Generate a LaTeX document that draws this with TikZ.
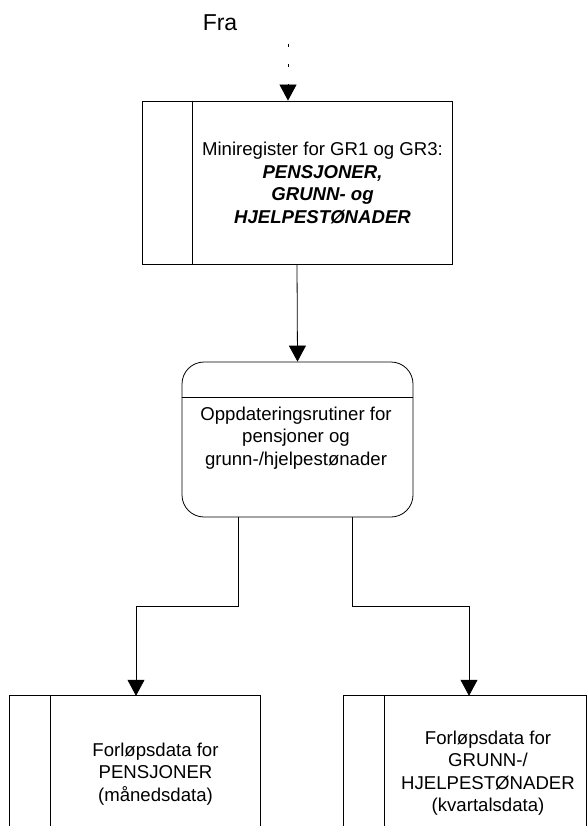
\documentclass[tikz,border=0pt]{standalone}
\usepackage{fontspec}
\setmainfont{Liberation Sans}
\usetikzlibrary{arrows.meta}
\tikzset{
  ln/.style={line width=0.8pt, draw=black},
  arr/.style={ln, -{Triangle[length=16pt,width=17pt]}},
  txt/.style={align=center, font=\fontsize{18.6}{22.5}\selectfont, inner sep=0pt},
  box/.style={ln, rectangle, inner sep=0pt},
  openbox/.style={rectangle, inner sep=0pt}
}
\begin{document}
\begin{tikzpicture}[x=1pt,y=1pt]
\useasboundingbox (0,0) rectangle (587,-826);
% Fra
\node[txt, font=\fontsize{23}{26}\selectfont, anchor=center] (fra) at (220,-23) {Fra};
\coordinate (fratail) at (288,-44);
% top box
\node[box, minimum width=310pt, minimum height=163pt] (mini) at (297,-182.5) {};
\draw[ln] ([xshift=51pt]mini.north west) -- ([xshift=51pt]mini.south west);
\node[txt] (minitext) at (322.5,-183) {Miniregister for GR1 og GR3:\\\textbf{\textit{PENSJONER,}}\\\textbf{\textit{GRUNN- og}}\\\textbf{\textit{HJELPESTØNADER}}};
% incoming dotted arrow
\draw[arr, dash pattern=on 3pt off 17pt] (fratail) -- (fratail |- mini.north);
% rounded box
\node[box, rounded corners=22pt, minimum width=231pt, minimum height=155pt] (upd) at (297.5,-439.5) {};
\draw[ln] ([yshift=-36pt]upd.north west) -- ([yshift=-36pt]upd.north east);
\node[txt] (updtext) at (296,-438) {Oppdateringsrutiner for\\pensjoner og\\grunn-/hjelpestønader};
\draw[arr] (mini.south) -- (upd.north);
% bottom boxes
\node[openbox, minimum width=250pt, minimum height=130pt] (pens) at (135,-761) {};
\draw[ln] (pens.south west) -- (pens.north west) -- (pens.north east) -- (pens.south east);
\draw[ln] ([xshift=41pt]pens.north west) -- ([xshift=41pt]pens.south west);
\node[txt] (penstext) at (155.5,-774) {Forløpsdata for\\PENSJONER\\(månedsdata)};
\node[openbox, minimum width=242pt, minimum height=130pt] (grunn) at (465,-761) {};
\draw[ln] (grunn.south west) -- (grunn.north west) -- (grunn.north east) -- (grunn.south east);
\draw[ln] ([xshift=41pt]grunn.north west) -- ([xshift=41pt]grunn.south west);
\node[txt] (grunntext) at (488,-773) {Forløpsdata for\\GRUNN-/\\HJELPESTØNADER\\(kvartalsdata)};
% branches
\coordinate (o1) at (238,-517);
\coordinate (o2) at (352,-517);
\draw[arr] (o1) -- ++(0,-89) -| ([xshift=1pt]pens.north);
\draw[arr] (o2) -- ++(0,-89) -| ([xshift=4pt]grunn.north);
\end{tikzpicture}
\end{document}
